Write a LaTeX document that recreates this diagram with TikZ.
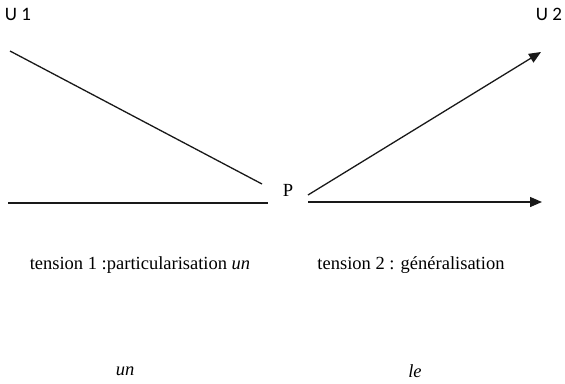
\documentclass[tikz,border=0pt]{standalone}
\usepackage{fontspec}
\setmainfont{Liberation Serif}
\newfontfamily\ufont{Carlito}
\usetikzlibrary{arrows.meta}
\begin{document}
\begin{tikzpicture}[x=1pt,y=-1pt,
  ln/.style={line width=1.3pt, draw=black!90},
  arr/.style={ln, -{Triangle[length=12pt,width=10pt]}},
  lab/.style={inner sep=0pt, font=\fontsize{18.5}{21}\selectfont},
  ulab/.style={inner sep=0pt, font=\ufont\fontsize{19}{22}\selectfont}]
\useasboundingbox (0,0) rectangle (565,383);
\node[ulab] (u1) at (18,14) {U 1};
\node[ulab] (u2) at (549,14) {U 2};
\node[lab] (p) at (288,190) {P};
\coordinate (a1) at (10,51);
\coordinate (a2) at (262,184);
\coordinate (b1) at (8,203);
\coordinate (b2) at (268,203);
\coordinate (c1) at (308,195);
\coordinate (c2) at (541,52);
\coordinate (d1) at (308,202);
\coordinate (d2) at (542,202);
\draw[ln] (a1) -- (a2);
\draw[ln] (b1) -- (b2);
\draw[arr] (c1) -- (c2);
\draw[arr] (d1) -- (d2);
\node[lab] (t1) at (140,265) {tension 1 :particularisation \textit{un}};
\node[lab] (t2) at (411,265) {tension 2 : généralisation};
\node[lab] (un) at (125,371) {\textit{un}};
\node[lab] (le) at (415,371) {\textit{le}};
\end{tikzpicture}
\end{document}
